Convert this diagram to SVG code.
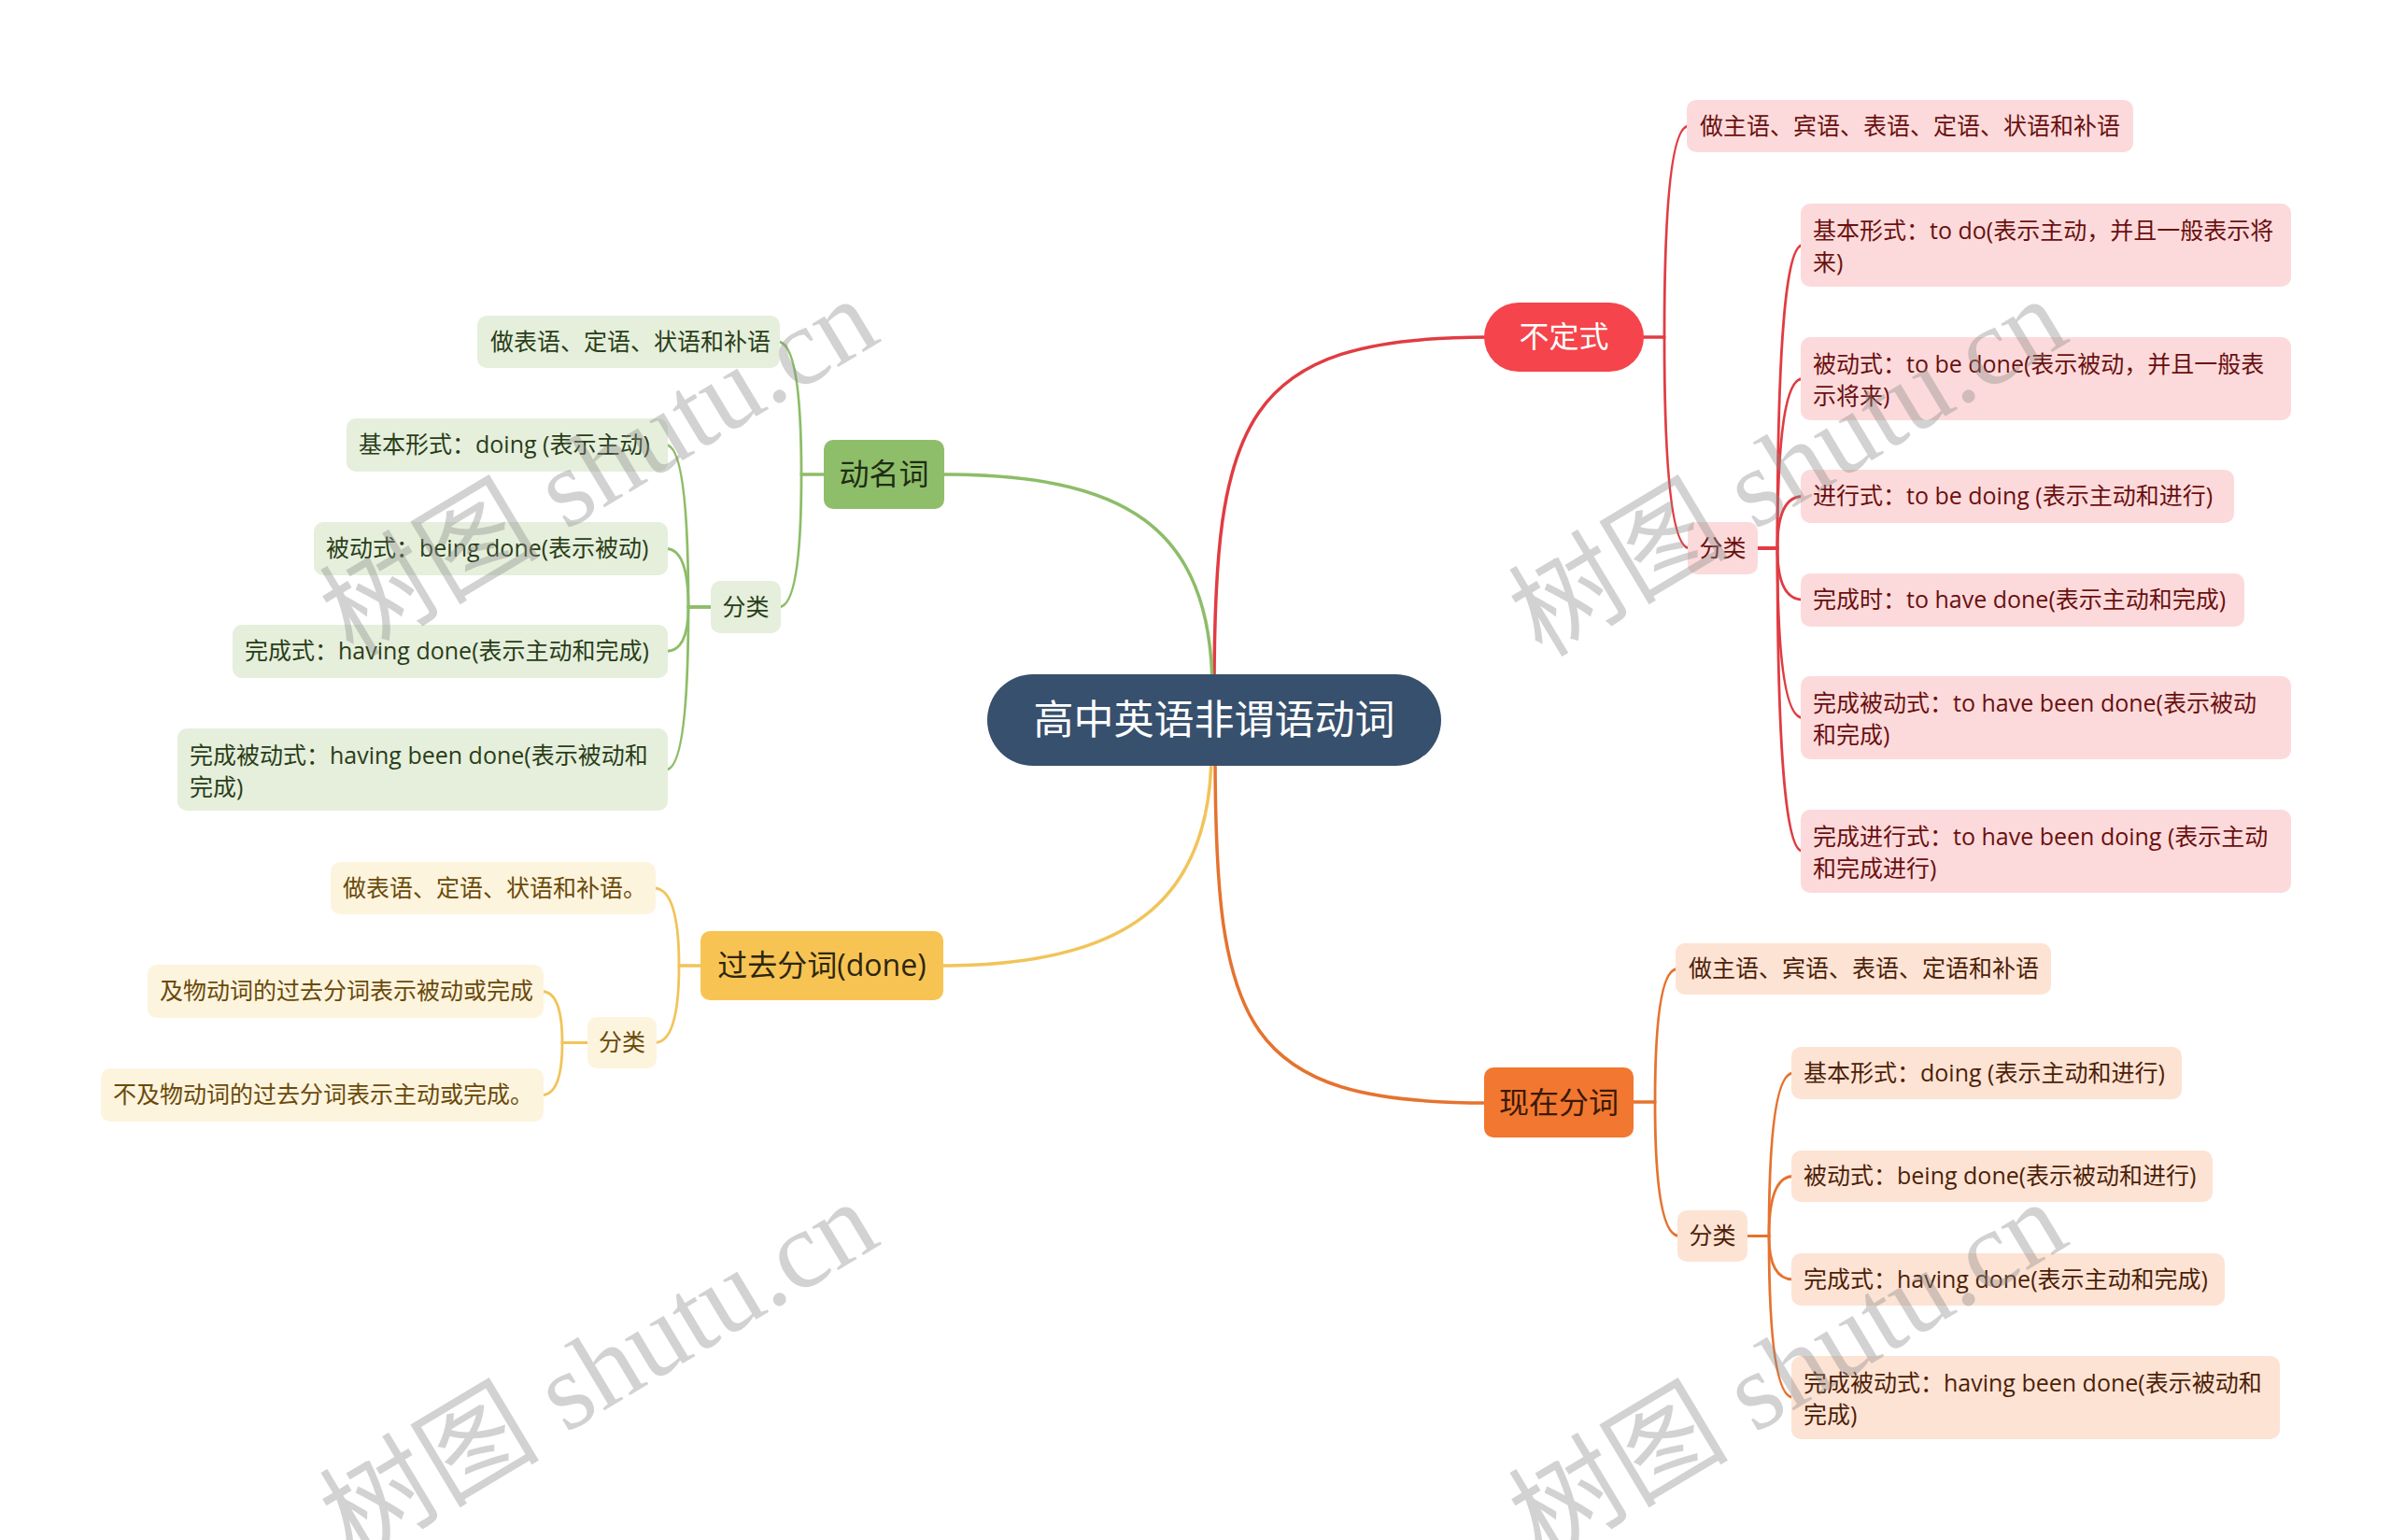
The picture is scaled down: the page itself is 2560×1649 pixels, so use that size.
<svg xmlns="http://www.w3.org/2000/svg" width="2560" height="1649" viewBox="0 0 2560 1649">
<style>
.t{font-family:"Open Sans","Noto Sans CJK SC",sans-serif;}
.c{font-size:25px;}
.m{font-size:32px;text-anchor:middle;}
.ln{fill:none;stroke-linecap:round;}
.main{stroke-width:3.5;}
.sub{stroke-width:2.8;}
.red{stroke:#e03c42;}
.org{stroke:#e5732f;}
.grn{stroke:#8dbd68;}
.yel{stroke:#f1c45a;}
.rbox{fill:#fcdadb;}
.obox{fill:#fde3d4;}
.gbox{fill:#e5efdc;}
.ybox{fill:#fdf4de;}
.rtx{fill:#6a1010;}
.otx{fill:#4d1f08;}
.gtx{fill:#2a3d18;}
.ytx{fill:#6a4a0a;}
.wm{font-family:"Liberation Serif","Noto Sans CJK SC",serif;font-size:118px;fill:#8a8a8a;opacity:0.38;}
</style>
<rect width="2560" height="1649" fill="#ffffff"/>

<g id="connectors">
  <!-- main branches -->
  <path class="ln main red" d="M1300,740 C1300,450 1330,361 1592,361"/>
  <path class="ln main grn" d="M1298,740 C1298,560 1200,508 1008,508"/>
  <path class="ln main yel" d="M1297,805 C1297,970 1200,1034 1008,1034"/>
  <path class="ln main org" d="M1301,805 C1301,1100 1330,1181 1592,1181"/>
  <!-- red -->
  <path class="ln sub red" d="M1758,361 H1782 Q1782,135 1808,135"/>
  <path class="ln sub red" d="M1758,361 H1782 Q1782,587 1809,587"/>
  <path class="ln sub red" d="M1880,587 H1903 Q1903,262.5 1930,262.5"/>
  <path class="ln sub red" d="M1880,587 H1903 Q1903,405.5 1930,405.5"/>
  <path class="ln sub red" d="M1880,587 H1903 Q1903,531.5 1930,531.5"/>
  <path class="ln sub red" d="M1880,587 H1903 Q1903,642 1930,642"/>
  <path class="ln sub red" d="M1880,587 H1903 Q1903,768.5 1930,768.5"/>
  <path class="ln sub red" d="M1880,587 H1903 Q1903,911.5 1930,911.5"/>
  <!-- orange -->
  <path class="ln sub org" d="M1747,1180 H1772 Q1772,1037.5 1796,1037.5"/>
  <path class="ln sub org" d="M1747,1180 H1772 Q1772,1323.5 1798,1323.5"/>
  <path class="ln sub org" d="M1869,1323.5 H1894 Q1894,1149 1920,1149"/>
  <path class="ln sub org" d="M1869,1323.5 H1894 Q1894,1259.5 1920,1259.5"/>
  <path class="ln sub org" d="M1869,1323.5 H1894 Q1894,1370 1920,1370"/>
  <path class="ln sub org" d="M1869,1323.5 H1894 Q1894,1496.5 1920,1496.5"/>
  <!-- green -->
  <path class="ln sub grn" d="M884,508 H858 Q858,366 833,366"/>
  <path class="ln sub grn" d="M884,508 H858 Q858,650 834,650"/>
  <path class="ln sub grn" d="M763,650 H737 Q737,476.5 713,476.5"/>
  <path class="ln sub grn" d="M763,650 H737 Q737,587.5 713,587.5"/>
  <path class="ln sub grn" d="M763,650 H737 Q737,697.5 713,697.5"/>
  <path class="ln sub grn" d="M763,650 H737 Q737,824 713,824"/>
  <!-- yellow -->
  <path class="ln sub yel" d="M752,1034 H727 Q727,951 700,951"/>
  <path class="ln sub yel" d="M752,1034 H727 Q727,1116.5 701,1116.5"/>
  <path class="ln sub yel" d="M631,1116.5 H602 Q602,1061.5 580,1061.5"/>
  <path class="ln sub yel" d="M631,1116.5 H602 Q602,1172.5 580,1172.5"/>
</g>

<g id="root">
  <rect x="1057" y="722" width="486" height="98" rx="49" fill="#37506d"/>
  <text class="t" x="1300" y="786" font-size="43" text-anchor="middle" fill="#ffffff">高中英语非谓语动词</text>
</g>

<!-- red branch -->
<g id="n-budingshi">
  <rect x="1589" y="324" width="171" height="74" rx="37" fill="#f5444b"/>
  <text class="t m" x="1674.5" y="372" fill="#ffffff">不定式</text>
</g>
<g id="n-r1">
  <rect class="rbox" x="1806" y="107" width="478" height="56" rx="10"/>
  <text class="t c rtx" x="1820" y="144">做主语、宾语、表语、定语、状语和补语</text>
</g>
<g id="n-r-fenlei">
  <rect class="rbox" x="1807" y="559" width="75" height="56" rx="10"/>
  <text class="t c rtx" x="1844.5" y="596" text-anchor="middle">分类</text>
</g>
<g id="n-r2">
  <rect class="rbox" x="1928" y="218" width="525" height="89" rx="10"/>
  <text class="t c rtx"><tspan x="1941" y="256">基本形式：to do(表示主动，并且一般表示将</tspan><tspan x="1941" y="290">来)</tspan></text>
</g>
<g id="n-r3">
  <rect class="rbox" x="1928" y="361" width="525" height="89" rx="10"/>
  <text class="t c rtx"><tspan x="1941" y="399">被动式：to be done(表示被动，并且一般表</tspan><tspan x="1941" y="433">示将来)</tspan></text>
</g>
<g id="n-r4">
  <rect class="rbox" x="1928" y="503" width="464" height="57" rx="10"/>
  <text class="t c rtx" x="1941" y="540">进行式：to be doing (表示主动和进行)</text>
</g>
<g id="n-r5">
  <rect class="rbox" x="1928" y="614" width="475" height="57" rx="10"/>
  <text class="t c rtx" x="1941" y="651">完成时：to have done(表示主动和完成)</text>
</g>
<g id="n-r6">
  <rect class="rbox" x="1928" y="724" width="525" height="89" rx="10"/>
  <text class="t c rtx"><tspan x="1941" y="762">完成被动式：to have been done(表示被动</tspan><tspan x="1941" y="796">和完成)</tspan></text>
</g>
<g id="n-r7">
  <rect class="rbox" x="1928" y="867" width="525" height="89" rx="10"/>
  <text class="t c rtx"><tspan x="1941" y="905">完成进行式：to have been doing (表示主动</tspan><tspan x="1941" y="939">和完成进行)</tspan></text>
</g>

<!-- orange branch -->
<g id="n-xianzai">
  <rect x="1589" y="1143" width="160" height="75" rx="10" fill="#f27730"/>
  <text class="t m" x="1669" y="1192" fill="#3a1a08">现在分词</text>
</g>
<g id="n-o1">
  <rect class="obox" x="1794" y="1010" width="402" height="55" rx="10"/>
  <text class="t c otx" x="1808" y="1046">做主语、宾语、表语、定语和补语</text>
</g>
<g id="n-o-fenlei">
  <rect class="obox" x="1796" y="1296" width="75" height="55" rx="10"/>
  <text class="t c otx" x="1833.5" y="1332" text-anchor="middle">分类</text>
</g>
<g id="n-o2">
  <rect class="obox" x="1918" y="1121" width="418" height="56" rx="10"/>
  <text class="t c otx" x="1931" y="1158">基本形式：doing (表示主动和进行)</text>
</g>
<g id="n-o3">
  <rect class="obox" x="1918" y="1232" width="451" height="55" rx="10"/>
  <text class="t c otx" x="1931" y="1268">被动式：being done(表示被动和进行)</text>
</g>
<g id="n-o4">
  <rect class="obox" x="1918" y="1342" width="464" height="56" rx="10"/>
  <text class="t c otx" x="1931" y="1379">完成式：having done(表示主动和完成)</text>
</g>
<g id="n-o5">
  <rect class="obox" x="1918" y="1452" width="523" height="89" rx="10"/>
  <text class="t c otx"><tspan x="1931" y="1490">完成被动式：having been done(表示被动和</tspan><tspan x="1931" y="1524">完成)</tspan></text>
</g>

<!-- green branch -->
<g id="n-dongming">
  <rect x="882" y="471" width="129" height="74" rx="10" fill="#8fbe6b"/>
  <text class="t m" x="946.5" y="519" fill="#1f2d12">动名词</text>
</g>
<g id="n-g1">
  <rect class="gbox" x="511" y="338" width="324" height="56" rx="10"/>
  <text class="t c gtx" x="525" y="375">做表语、定语、状语和补语</text>
</g>
<g id="n-g-fenlei">
  <rect class="gbox" x="761" y="622" width="75" height="56" rx="10"/>
  <text class="t c gtx" x="798.5" y="659" text-anchor="middle">分类</text>
</g>
<g id="n-g2">
  <rect class="gbox" x="371" y="448" width="344" height="57" rx="10"/>
  <text class="t c gtx" x="384" y="485">基本形式：doing (表示主动)</text>
</g>
<g id="n-g3">
  <rect class="gbox" x="336" y="559" width="379" height="57" rx="10"/>
  <text class="t c gtx" x="349" y="596">被动式：being done(表示被动)</text>
</g>
<g id="n-g4">
  <rect class="gbox" x="249" y="669" width="466" height="57" rx="10"/>
  <text class="t c gtx" x="262" y="706">完成式：having done(表示主动和完成)</text>
</g>
<g id="n-g5">
  <rect class="gbox" x="190" y="780" width="525" height="88" rx="10"/>
  <text class="t c gtx"><tspan x="203" y="818">完成被动式：having been done(表示被动和</tspan><tspan x="203" y="852">完成)</tspan></text>
</g>

<!-- yellow branch -->
<g id="n-guoqu">
  <rect x="750" y="997" width="260" height="74" rx="10" fill="#f7c453"/>
  <text class="t m" x="880" y="1045" fill="#2e2610">过去分词(done)</text>
</g>
<g id="n-y1">
  <rect class="ybox" x="354" y="923" width="348" height="56" rx="10"/>
  <text class="t c ytx" x="367" y="960">做表语、定语、状语和补语。</text>
</g>
<g id="n-y-fenlei">
  <rect class="ybox" x="629" y="1089" width="74" height="55" rx="10"/>
  <text class="t c ytx" x="666" y="1125" text-anchor="middle">分类</text>
</g>
<g id="n-y2">
  <rect class="ybox" x="158" y="1033" width="424" height="57" rx="10"/>
  <text class="t c ytx" x="171" y="1070">及物动词的过去分词表示被动或完成</text>
</g>
<g id="n-y3">
  <rect class="ybox" x="108" y="1144" width="474" height="57" rx="10"/>
  <text class="t c ytx" x="121" y="1181">不及物动词的过去分词表示主动或完成。</text>
</g>

<g id="watermark">
  <text class="wm" transform="translate(378,705) rotate(-31)">树图 shutu.cn</text>
  <text class="wm" transform="translate(1651,705) rotate(-31)">树图 shutu.cn</text>
  <text class="wm" transform="translate(378,1672) rotate(-31)">树图 shutu.cn</text>
  <text class="wm" transform="translate(1651,1672) rotate(-31)">树图 shutu.cn</text>
</g>
</svg>
